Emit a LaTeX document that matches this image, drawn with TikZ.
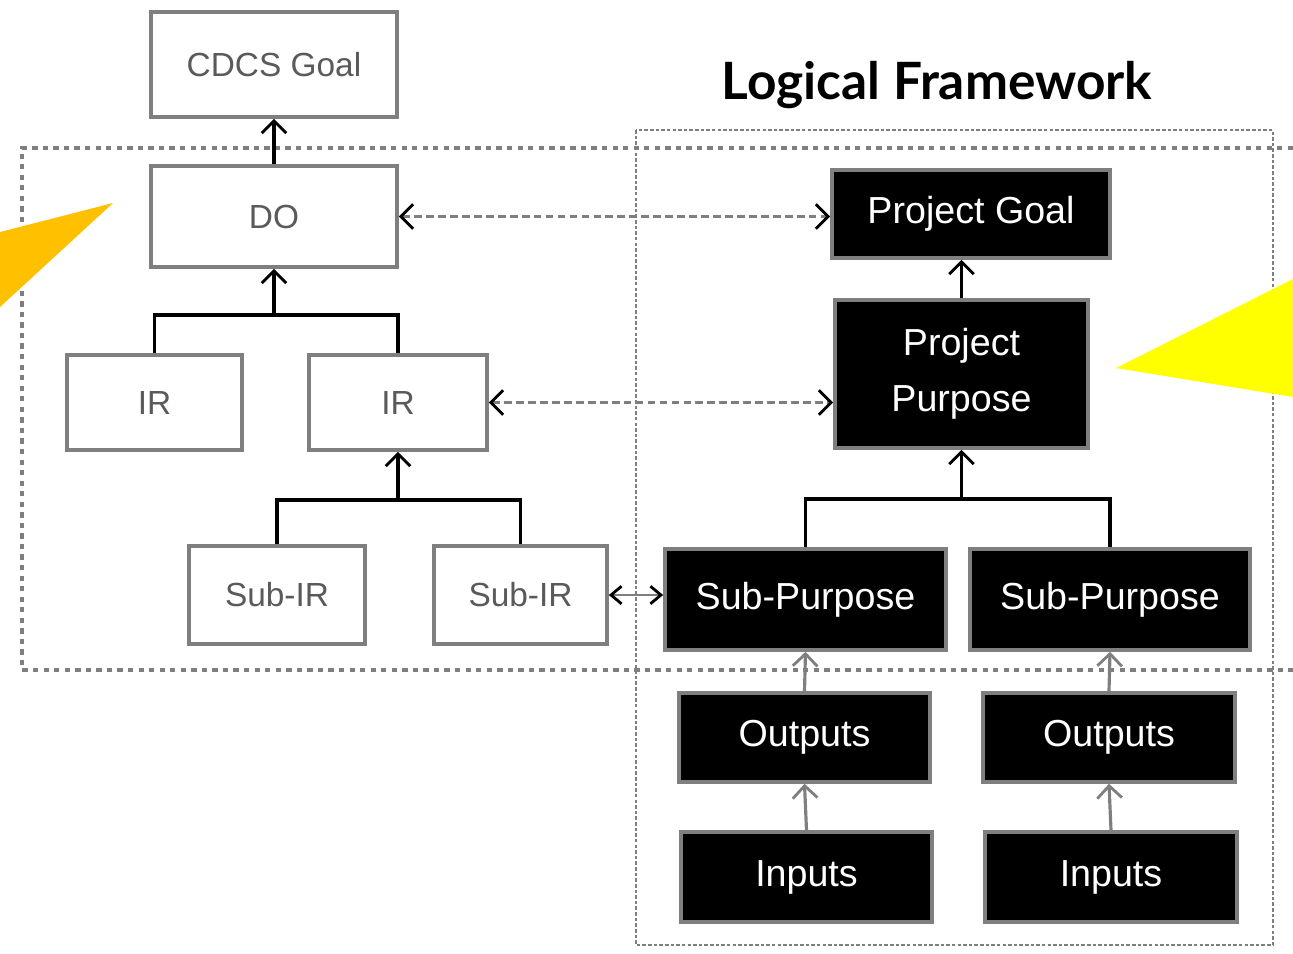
\documentclass[tikz,border=0pt]{standalone}
\usepackage{fontspec}
\setmainfont{Liberation Sans}
\newfontfamily\titlefont{Lato}
\usetikzlibrary{arrows.meta}
\definecolor{boxgray}{HTML}{7F7F7F}
\definecolor{txtgray}{HTML}{5A5A5A}
\definecolor{orangetri}{HTML}{FFC000}
\definecolor{yellowtri}{HTML}{FFFF00}
\tikzset{
  lbox/.style={draw=boxgray, line width=1pt, fill=white, text=txtgray, inner sep=0pt, font=\fontsize{9.5}{12}\selectfont},
  rbox/.style={draw=boxgray, line width=1pt, fill=black, text=white, inner sep=0pt, align=center, font=\fontsize{10.7}{16}\selectfont},
  conn/.style={line width=0.9pt, draw=black},
  upar/.style={conn, -{Straight Barb[length=3.5pt,width=7pt,line width=0.8pt]}},
  grayar/.style={line width=0.9pt, draw=boxgray, -{Straight Barb[length=3.5pt,width=7pt,line width=0.8pt]}},
  dashar/.style={line width=0.8pt, draw=boxgray, dash pattern=on 2.2pt off 1.2pt, {Straight Barb[length=3.5pt,width=7pt,line width=0.8pt,color=black]}-{Straight Barb[length=3.5pt,width=7pt,line width=0.8pt,color=black]}},
  smallar/.style={line width=0.8pt, draw=boxgray, {Straight Barb[length=3pt,width=5pt,line width=0.8pt,color=black]}-{Straight Barb[length=3pt,width=5pt,line width=0.8pt,color=black]}},
  frameA/.style={draw=boxgray, line width=1.1pt, dash pattern=on 1.5pt off 1.5pt},
  frameB/.style={draw=boxgray, line width=0.7pt, dash pattern=on 1pt off 0.6pt},
}
\begin{document}
\begin{tikzpicture}[x=0.01cm,y=-0.01cm]
\useasboundingbox (0,0) rectangle (1293,953);
\clip (0,0) rectangle (1293,953);

% frames
\draw[frameA] (1293,148) -- (22,148) -- (22,670) -- (1293,670);
\draw[frameB] (636,130) rectangle (1273,945);

% title
\node (title) at (937,85) {\resizebox{4.3cm}{!}{\titlefont\bfseries Logical Framework}};

% left hierarchy
\node[lbox, minimum width=2.46cm, minimum height=1.05cm] (cdcs) at (274,64.5) {CDCS Goal};
\node[lbox, minimum width=2.46cm, minimum height=1.01cm] (do) at (274,216.5) {DO};
\node[lbox, minimum width=1.75cm, minimum height=0.95cm] (ir1) at (154.5,402.5) {IR};
\node[lbox, minimum width=1.78cm, minimum height=0.95cm] (ir2) at (398,402.5) {IR};
\node[lbox, minimum width=1.76cm, minimum height=0.98cm] (sir1) at (277,595) {Sub-IR};
\node[lbox, minimum width=1.73cm, minimum height=0.98cm] (sir2) at (520.5,595) {Sub-IR};

% right hierarchy
\node[rbox, minimum width=2.78cm, minimum height=0.88cm] (pg) at (971,214) {Project Goal};
\node[rbox, minimum width=2.53cm, minimum height=1.48cm] (pp) at (961.5,374) {Project\\Purpose};
\node[rbox, minimum width=2.81cm, minimum height=1.01cm] (sp1) at (805.5,599.5) {Sub-Purpose};
\node[rbox, minimum width=2.80cm, minimum height=1.01cm] (sp2) at (1110,599.5) {Sub-Purpose};
\node[rbox, minimum width=2.51cm, minimum height=0.89cm] (o1) at (804.5,737.5) {Outputs};
\node[rbox, minimum width=2.52cm, minimum height=0.89cm] (o2) at (1109,737.5) {Outputs};
\node[rbox, minimum width=2.51cm, minimum height=0.90cm] (i1) at (806.5,877) {Inputs};
\node[rbox, minimum width=2.52cm, minimum height=0.90cm] (i2) at (1111,877) {Inputs};

% tree bars
\coordinate (barA) at (0,315);
\coordinate (barB) at (0,500);
\coordinate (barC) at (0,499);

\draw[upar] (do.north) -- (cdcs.south);
\draw[conn] (ir1.north) -- (ir1.north |- barA) -- (ir2.north |- barA) -- (ir2.north);
\draw[upar] (do.south |- barA) -- (do.south);
\draw[conn] (sir1.north) -- (sir1.north |- barB) -- (sir2.north |- barB) -- (sir2.north);
\draw[upar] (ir2.south |- barB) -- (ir2.south);

\draw[upar] (pp.north) -- (pp.north |- pg.south);
\draw[conn] (sp1.north) -- (sp1.north |- barC) -- (sp2.north |- barC) -- (sp2.north);
\draw[upar] (pp.south |- barC) -- (pp.south);
\draw[grayar] (o1.north) -- (sp1.south);
\draw[grayar] (o2.north) -- (sp2.south);
\draw[grayar] (i1.north) -- (o1.south);
\draw[grayar] (i2.north) -- (o2.south);

% cross links
\draw[dashar] (do.east) -- (do.east -| pg.west);
\draw[dashar] (ir2.east) -- (ir2.east -| pp.west);
\draw[smallar] (sir2.east) -- (sir2.east -| sp1.west);

% callout triangles
\fill[orangetri] (113,203) -- (0,232) -- (0,307) -- cycle;
\fill[yellowtri] (1116,368) -- (1293,279) -- (1293,397) -- cycle;
\end{tikzpicture}
\end{document}
